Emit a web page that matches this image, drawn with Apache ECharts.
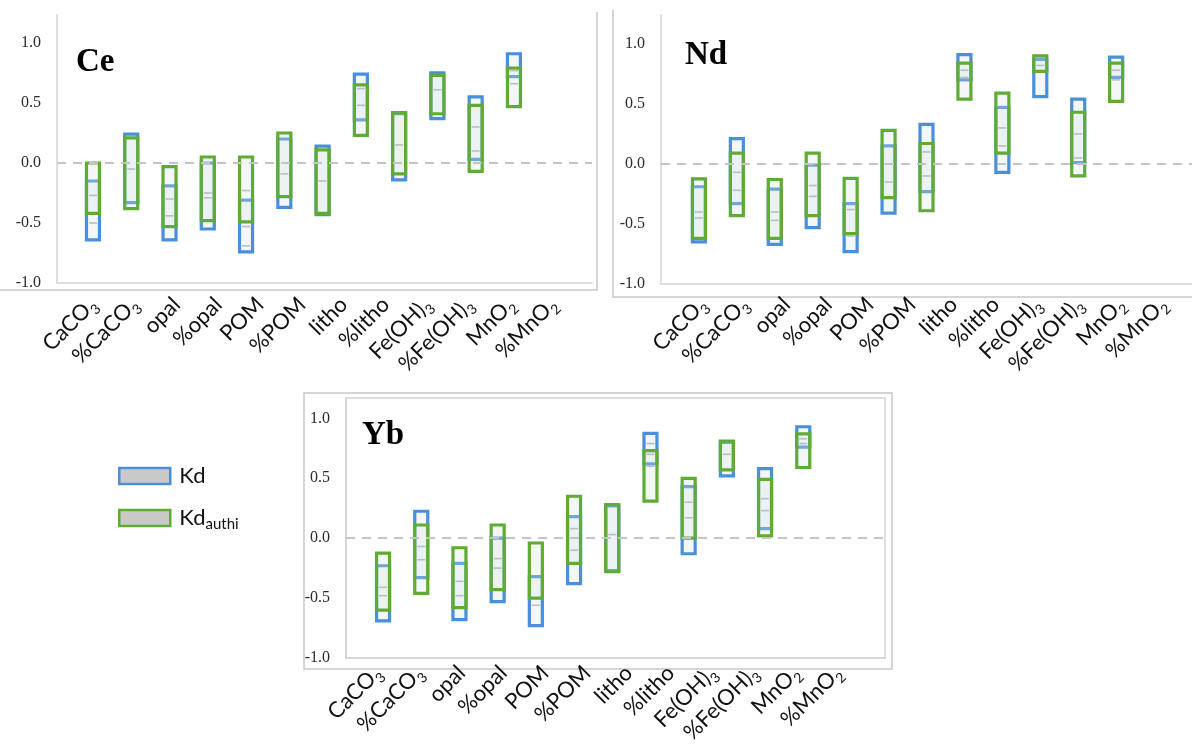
<!DOCTYPE html>
<html><head><meta charset="utf-8">
<script src="https://cdn.jsdelivr.net/npm/echarts@6/dist/echarts.min.js"></script>
<style>html,body{margin:0;padding:0;background:#fff}#c{width:1192px;height:749px}</style>
</head><body><div id="c"></div>
<script>
// ---------- data ----------
const categories = ['CaCO3','%CaCO3','opal','%opal','POM','%POM','litho','%litho','Fe(OH)3','%Fe(OH)3','MnO2','%MnO2'];
const yTickLabels = ['-1.0','-0.5','0.0','0.5','1.0'];
const panelNames = ['Ce','Nd','Yb'];

// Ce
const ceKdLow    = [-0.64,-0.33,-0.64,-0.55,-0.74,-0.37,-0.43, 0.36,-0.14, 0.37, 0.03, 0.72];
const ceKdHigh   = [-0.15, 0.24,-0.19, 0.00,-0.31, 0.20, 0.14, 0.74, 0.41, 0.75, 0.55, 0.91];
const ceAuthLow  = [-0.42,-0.38,-0.53,-0.48,-0.49,-0.28,-0.42, 0.23,-0.09, 0.41,-0.07, 0.47];
const ceAuthHigh = [ 0.00, 0.21,-0.03, 0.05, 0.05, 0.25, 0.11, 0.65, 0.42, 0.73, 0.48, 0.79];
const ceMarks = [[-0.27,-0.50],[-0.05],[-0.30,-0.44],[-0.25,-0.29],[-0.23,-0.53,-0.69],[-0.09],[-0.15],[0.62,0.48],[0.15],[0.61],[0.30,0.10],[0.77,0.66]];

// Nd
const ndKdLow    = [-0.65,-0.33,-0.67,-0.53,-0.73,-0.41,-0.23, 0.70,-0.07, 0.56, 0.01, 0.72];
const ndKdHigh   = [-0.19, 0.21,-0.21,-0.01,-0.33, 0.15, 0.33, 0.91, 0.47, 0.87, 0.54, 0.89];
const ndAuthLow  = [-0.62,-0.43,-0.62,-0.43,-0.58,-0.28,-0.39, 0.54, 0.09, 0.77,-0.10, 0.52];
const ndAuthHigh = [-0.125,0.09,-0.13, 0.09,-0.12, 0.28, 0.17, 0.84, 0.59, 0.90, 0.43, 0.84];
const ndMarks = [[-0.40,-0.45],[-0.07,-0.22],[-0.40,-0.47],[-0.18,-0.27],[-0.38,-0.60],[0.00,-0.15],[0.10,-0.10],[0.78,0.72],[0.30,0.15],[0.82],[0.25,0.05],[0.78,0.70]];

// Yb
const ybKdLow    = [-0.69,-0.33,-0.68,-0.53,-0.73,-0.38,-0.27, 0.62,-0.13, 0.52, 0.08, 0.76];
const ybKdHigh   = [-0.23, 0.225,-0.21, 0.00,-0.32, 0.18, 0.27, 0.875,0.43, 0.80, 0.58, 0.93];
const ybAuthLow  = [-0.60,-0.46,-0.58,-0.43,-0.50,-0.21,-0.28, 0.31, 0.00, 0.57, 0.02, 0.59];
const ybAuthHigh = [-0.125,0.11,-0.08, 0.11,-0.04, 0.35, 0.28, 0.73, 0.50, 0.81, 0.49, 0.87];
const ybMarks = [[-0.41,-0.48],[-0.07,-0.18],[-0.36,-0.48],[-0.17,-0.25],[-0.56],[0.08,-0.10],[0.03],[0.79,0.70,0.60],[0.30,0.17],[0.70],[0.33,0.23],[0.83,0.79]];

// ---------- styling ----------
const BLUE = '#4a8fda', GREEN = '#5fab34';
const FILL = 'rgba(214,226,230,0.28)';
const AXISC = '#d3d3d3';

function boxRender(color){
  return function(params, api){
    const x = api.value(0), lo = api.value(1), hi = api.value(2);
    const a = api.coord([x, hi]), b = api.coord([x, lo]);
    const w = 13;
    return {type:'rect', shape:{x:a[0]-w/2, y:a[1], width:w, height:b[1]-a[1]},
            style:{fill:FILL, stroke:color, lineWidth:3.2}};
  };
}
function markRender(params, api){
  const p = api.coord([api.value(0), api.value(1)]);
  return {type:'line', shape:{x1:p[0]-4, y1:p[1], x2:p[0]+4, y2:p[1]},
          style:{stroke:'#b4c0c8', lineWidth:1.6}};
}
function rangeData(lo, hi){ return categories.map((c,i)=>[i, lo[i], hi[i]]); }
function markData(m){ const out=[]; m.forEach((arr,i)=>arr.forEach(v=>out.push([i,v]))); return out; }

const panels = [
  {kdL:ceKdLow, kdH:ceKdHigh, auL:ceAuthLow, auH:ceAuthHigh, marks:ceMarks,
   grid:{left:57, top:15, width:535, height:268}, x:[-0.94,13.04], y:[-1,1.233], border:false,
   lab:{left:72, top:277, width:502, height:10}},
  {kdL:ndKdLow, kdH:ndKdHigh, auL:ndAuthLow, auH:ndAuthHigh, marks:ndMarks,
   grid:{left:661, top:15, width:532, height:269}, x:[-1,13], y:[-1,1.24], border:false,
   lab:{left:682, top:277, width:502, height:10}},
  {kdL:ybKdLow, kdH:ybKdHigh, auL:ybAuthLow, auH:ybAuthHigh, marks:ybMarks,
   grid:{left:346, top:398, width:539, height:260}, x:[-0.97,13.14], y:[-1,1.17], border:true,
   lab:{left:357, top:649, width:502, height:10}}
];

const grid=[], xAxis=[], yAxis=[], series=[];
const subRich = {s:{fontSize:14, fontFamily:'Lato', color:'#111', verticalAlign:'bottom', lineHeight:15}};
function subFmt(v){ return v.replace(/(\d)$/, '{s|$1}'); }

panels.forEach((p,k)=>{
  grid.push(Object.assign({show:p.border, borderColor:AXISC, borderWidth:1.5, backgroundColor:'transparent'}, p.grid));
  xAxis.push({type:'value', gridIndex:k, min:p.x[0], max:p.x[1],
    axisLine:{show:true, onZero:false, lineStyle:{color:AXISC, width:1.5}},
    axisTick:{show:false}, axisLabel:{show:false}, splitLine:{show:false}});
  yAxis.push({type:'value', gridIndex:k, min:p.y[0], max:p.y[1], interval:0.5,
    axisLine:{show:true, onZero:false, lineStyle:{color:AXISC, width:1.5}},
    axisTick:{show:false}, splitLine:{show:false},
    axisLabel:{fontFamily:'Liberation Serif', fontSize:16, color:'#2a2a2a', margin:16,
      formatter: v => { const i = yTickLabels.indexOf(v.toFixed(1)); return (Math.abs(v*2-Math.round(v*2))<1e-6 && i>=0) ? yTickLabels[i] : ''; }}});
  series.push({type:'custom', name:'Kd', xAxisIndex:k, yAxisIndex:k, renderItem:boxRender(BLUE),
    encode:{x:0, y:[1,2]}, data:rangeData(p.kdL, p.kdH), z:2,
    markLine:{silent:true, symbol:'none', label:{show:false},
      lineStyle:{type:[9,7], color:'#c4c4c4', width:2}, data:[{yAxis:0}]}});
  series.push({type:'custom', name:'Kd_authi', xAxisIndex:k, yAxisIndex:k, renderItem:boxRender(GREEN),
    encode:{x:0, y:[1,2]}, data:rangeData(p.auL, p.auH), z:3});
  series.push({type:'custom', name:'marks', xAxisIndex:k, yAxisIndex:k, renderItem:markRender,
    encode:{x:0, y:1}, data:markData(p.marks), z:4, silent:true});
});

// label-only grids
panels.forEach((p,k)=>{
  const gi = 3 + k;
  grid.push(Object.assign({show:false}, p.lab));
  xAxis.push({type:'category', gridIndex:gi, data:categories, boundaryGap:true,
    axisLine:{show:false}, axisTick:{show:false}, splitLine:{show:false},
    axisLabel:{interval:0, rotate:45, margin:14, fontFamily:'Lato', fontSize:22, color:'#111',
      lineHeight:30, formatter: subFmt, rich: subRich}});
  yAxis.push({type:'value', gridIndex:gi, show:false});
});

const titlePos = [[76,64],[685,57],[362,437]];
const graphic = [
  {type:'polyline', shape:{points:[[0,290],[597,290],[597,12]]}, style:{stroke:'#c8c8c8', lineWidth:1.5, fill:null}, silent:true},
  {type:'polyline', shape:{points:[[613,10],[613,297],[1192,297]]}, style:{stroke:'#c8c8c8', lineWidth:1.5, fill:null}, silent:true},
  {type:'rect', shape:{x:304, y:393, width:588, height:276}, style:{stroke:'#c8c8c8', lineWidth:1.5, fill:null}, silent:true}
].concat(panelNames.map((n,i)=>({type:'text', left:titlePos[i][0], top:titlePos[i][1]-18,
   style:{text:n, font:'bold 33px "Liberation Serif"', fill:'#000'}, silent:true, z:10})));

const chart = echarts.init(document.getElementById('c'));
chart.setOption({
  animation:false,
  backgroundColor:'#fff',
  grid, xAxis, yAxis, series, graphic,
  legend:{orient:'vertical', left:113, top:457, itemWidth:51, itemHeight:16, itemGap:14, icon:'rect',
    data:[{name:'Kd', itemStyle:{color:'#c9c9c9', borderColor:BLUE, borderWidth:2.5}},
          {name:'Kd_authi', itemStyle:{color:'#c9c9c9', borderColor:GREEN, borderWidth:2.5}}],
    formatter: n => n==='Kd_authi' ? 'Kd{s|authi}' : n,
    textStyle:{fontFamily:'Lato', fontSize:22, color:'#111', lineHeight:28, padding:[0,0,0,4],
      rich:{s:{fontSize:15, fontFamily:'Lato', color:'#111', verticalAlign:'bottom', lineHeight:15}}}}
});
</script></body></html>
